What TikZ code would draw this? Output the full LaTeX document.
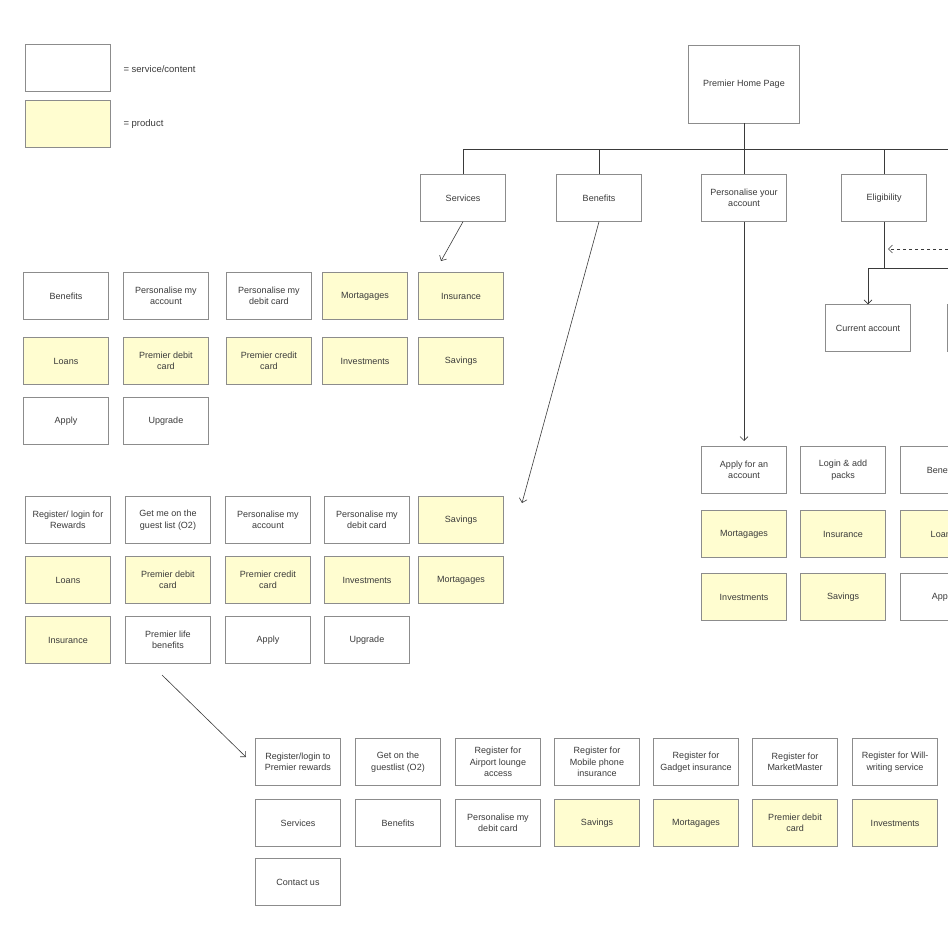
\documentclass[tikz,border=0pt]{standalone}
\usepackage{fontspec}
\setmainfont{Liberation Sans}
\usetikzlibrary{positioning}
\usetikzlibrary{arrows.meta}
\definecolor{prod}{HTML}{FFFDD0}
\definecolor{edge}{HTML}{8C8C8C}
\definecolor{ink}{HTML}{3A3A3A}
\begin{document}
\begin{tikzpicture}[x=1pt, y=-1pt, every node/.style={text=ink, font=\fontsize{9}{11.5}\selectfont},
    b/.style={rectangle, draw=edge, fill=white, minimum width=85pt, minimum height=47pt, align=center, inner sep=1pt},
    p/.style={b, fill=prod},
    l/.style={draw=ink, line width=0.6pt},
    >={Straight Barb[length=4pt, width=8pt]}]
        \useasboundingbox (0,0) rectangle (948,948);
        \clip (0,0) rectangle (948,948);
        % legend
        \node[b] (key1) at (68,68) {};
        \node[p] (key2) at (68,124) {};
        \node[anchor=west, font=\fontsize{9.5}{11}\selectfont] (keyt1) at (120,69) {= service/content};
        \node[anchor=west, font=\fontsize{9.5}{11}\selectfont] (keyt2) at (120,124) {= product};

        % top level
        \node[b, minimum width=111pt, minimum height=78pt] (home) at (744,84) {Premier Home Page};
        \node[b] (srv) at (463,198) {Services};
        \node[b] (ben) at (599,198) {Benefits};
        \node[b] (pers) at (744,198) {Personalise your\\account};
        \node[b] (elig) at (884,198) {Eligibility};
        \coordinate (bar) at (744,149);
        \coordinate (barR) at (960,149);
        \draw[l] (home) -- (bar);
        \draw[l] (srv.north) |- (barR);
        \draw[l] (ben.north) -- (ben.north |- bar);
        \draw[l] (pers.north) -- (pers.north |- bar);
        \draw[l] (elig.north) -- (elig.north |- bar);

        % eligibility branch
        \node[b] (cur) at (868,328) {Current account};
        \node[b] (cur2) at (990,328) {};
        \coordinate (ej) at (884,268);
        \coordinate (ejR) at (960,268);
        \coordinate (dashS) at (960,249);
        \draw[l] (elig.south) -- (ej) -- (ejR);
        \draw[l, ->] (ej) -| (cur.north);
        \draw[l, dashed, ->] (dashS) -- (888,249);

        % services
        \node[b] (s1) at (66,296) {Benefits};
        \node[b] (s2) at (166,296) {Personalise my\\account};
        \node[b] (s3) at (269,296) {Personalise my\\debit card};
        \node[p] (s4) at (365,296) {Mortagages};
        \node[p] (s5) at (461,296) {Insurance};
        \node[p] (s6) at (66,361) {Loans};
        \node[p] (s7) at (166,361) {Premier debit\\card};
        \node[p] (s8) at (269,361) {Premier credit\\card};
        \node[p] (s9) at (365,361) {Investments};
        \node[p] (s10) at (461,361) {Savings};
        \node[b] (s11) at (66,421) {Apply};
        \node[b] (s12) at (166,421) {Upgrade};
        \coordinate (srvT) at (441,261);
        \draw[l, ->] (srv.south) -- (srvT);

        % benefits
        \node[b] (b1) at (68,520) {Register/ login for\\Rewards};
        \node[b] (b2) at (168,520) {Get me on the\\guest list (O2)};
        \node[b] (b3) at (268,520) {Personalise my\\account};
        \node[b] (b4) at (367,520) {Personalise my\\debit card};
        \node[p] (b5) at (461,520) {Savings};
        \node[p] (b6) at (68,580) {Loans};
        \node[p] (b7) at (168,580) {Premier debit\\card};
        \node[p] (b8) at (268,580) {Premier credit\\card};
        \node[p] (b9) at (367,580) {Investments};
        \node[p] (b10) at (461,580) {Mortagages};
        \node[p] (b11) at (68,640) {Insurance};
        \node[b] (b12) at (168,640) {Premier life\\benefits};
        \node[b] (b13) at (268,640) {Apply};
        \node[b] (b14) at (367,640) {Upgrade};
        \coordinate (benT) at (522,503);
        \draw[l, ->] (ben.south) -- (benT);

        % premier life benefits
        \node[b] (r1) at (298,762) {Register/login to\\Premier rewards};
        \node[b] (r2) at (398,762) {Get on the\\guestlist (O2)};
        \node[b] (r3) at (498,762) {Register for\\Airport lounge\\access};
        \node[b] (r4) at (597,762) {Register for\\Mobile phone\\insurance};
        \node[b] (r5) at (696,762) {Register for\\Gadget insurance};
        \node[b] (r6) at (795,762) {Register for\\MarketMaster};
        \node[b] (r7) at (895,762) {Register for Will-\\writing service};
        \node[b] (r8) at (298,823) {Services};
        \node[b] (r9) at (398,823) {Benefits};
        \node[b] (r10) at (498,823) {Personalise my\\debit card};
        \node[p] (r11) at (597,823) {Savings};
        \node[p] (r12) at (696,823) {Mortagages};
        \node[p] (r13) at (795,823) {Premier debit\\card};
        \node[p] (r14) at (895,823) {Investments};
        \node[b] (r15) at (298,882) {Contact us};
        \coordinate (lifeS) at (162,675);
        \coordinate (lifeT) at (246,757);
        \draw[l, ->] (lifeS) -- (lifeT);

        % personalise your account
        \node[b] (a1) at (744,470) {Apply for an\\account};
        \node[b] (a2) at (843,470) {Login \& add\\packs};
        \node[b] (a3) at (943,470) {Benefits};
        \node[p] (a4) at (744,534) {Mortagages};
        \node[p] (a5) at (843,534) {Insurance};
        \node[p] (a6) at (943,534) {Loans};
        \node[p] (a7) at (744,597) {Investments};
        \node[p] (a8) at (843,597) {Savings};
        \node[b] (a9) at (943,597) {Apply};
        \coordinate (persT) at (744,441);
        \draw[l, ->] (pers.south) -- (persT);
    \end{tikzpicture}
\end{document}
